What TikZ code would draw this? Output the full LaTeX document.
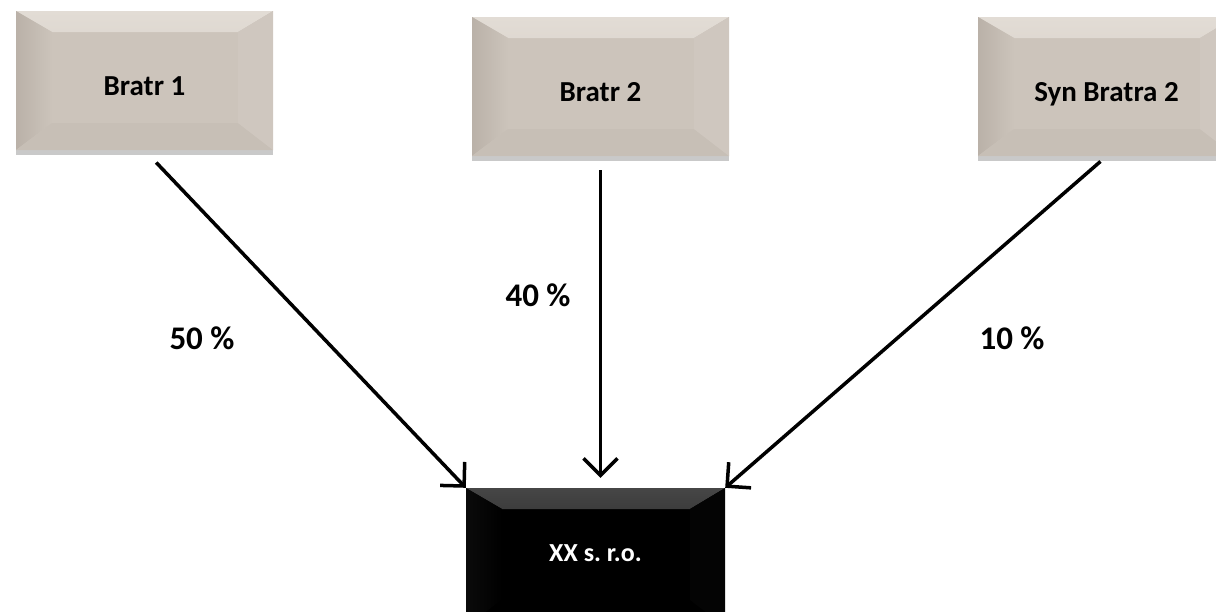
\documentclass[tikz,border=0pt]{standalone}
\usepackage{fontspec}
\setmainfont{Carlito}
\usetikzlibrary{arrows.meta, shadows}
\frenchspacing

\definecolor{sand}{RGB}{204,196,187}
\definecolor{sandlight}{RGB}{226,220,213}
\definecolor{sanddark}{RGB}{186,177,168}
\definecolor{sandright}{RGB}{207,199,191}
\definecolor{coal}{RGB}{70,70,70}

\begin{document}
\begin{tikzpicture}[x=1pt, y=-1pt,
                bevel/.style n args={4}{path picture={
                        \path[#1] (path picture bounding box.north west) -- (path picture bounding box.north east)
                                -- ([shift={(-35pt,-21pt)}]path picture bounding box.north east)
                                -- ([shift={(36pt,-21pt)}]path picture bounding box.north west) -- cycle;
                        \path[#2] (path picture bounding box.north west) -- ([shift={(36pt,-21pt)}]path picture bounding box.north west)
                                -- ([shift={(36pt,27pt)}]path picture bounding box.south west)
                                -- (path picture bounding box.south west) -- cycle;
                        \path[#3] (path picture bounding box.south west) -- ([shift={(36pt,27pt)}]path picture bounding box.south west)
                                -- ([shift={(-35pt,27pt)}]path picture bounding box.south east)
                                -- (path picture bounding box.south east) -- cycle;
                        \path[#4] (path picture bounding box.north east) -- ([shift={(-35pt,-21pt)}]path picture bounding box.north east)
                                -- ([shift={(-35pt,27pt)}]path picture bounding box.south east)
                                -- (path picture bounding box.south east) -- cycle;
                }},
                sandbox/.style={rectangle, fill=sand, minimum width=257pt, minimum height=139pt, inner sep=0pt,
                        text height=29pt, text depth=0pt, font=\fontsize{29}{34}\selectfont\bfseries,
                        drop shadow={shadow xshift=0pt, shadow yshift=-5pt, opacity=0.3, fill=black!70},
                        bevel={top color=sandlight, bottom color=sand!90!sandlight}{left color=sanddark, right color=sand}{fill=sand!75!sanddark}{fill=sandright}},
                blackbox/.style={rectangle, fill=black, minimum width=259pt, minimum height=139pt, inner sep=0pt,
                        text=white, text height=13pt, text depth=6pt, font=\fontsize{26}{31}\selectfont\bfseries,
                        bevel={top color=coal, bottom color=black!92!coal}{left color=black!85!coal, right color=black}{fill=black}{fill=black!94!coal}},
                share/.style={font=\fontsize{33}{38}\selectfont\bfseries},
                link/.style={line width=3.5pt, -{Straight Barb[length=17pt, width=34pt]}},
                ]
                \path[use as bounding box, clip] (0,0) rectangle (1216,611);
                %Nodes
                \node[sandbox]      (bratr1)    at (144.5,80.5)   {Bratr 1};
                \node[sandbox]      (bratr2)    at (600.5,86.5)   {Bratr 2};
                \node[sandbox]      (synbratra) at (1106.5,86.5)  {Syn Bratra 2};
                \node[blackbox]     (firm)      at (595.5,557.5)  {XX s. r.o.};
                \node[share]        (p50)       at (202,338)      {50 \%};
                \node[share]        (p40)       at (538,295)      {40 \%};
                \node[share]        (p10)       at (1012,338)     {10 \%};

                %Lines
                \draw[link, shorten <=17pt] (bratr1.south) -- (firm.north west);
                \draw[link, shorten <=14pt, shorten >=10pt] (bratr2.south) -- (bratr2.south |- firm.north);
                \draw[link, shorten <=8pt] (synbratra.south) -- (firm.north east);
\end{tikzpicture}
\end{document}
